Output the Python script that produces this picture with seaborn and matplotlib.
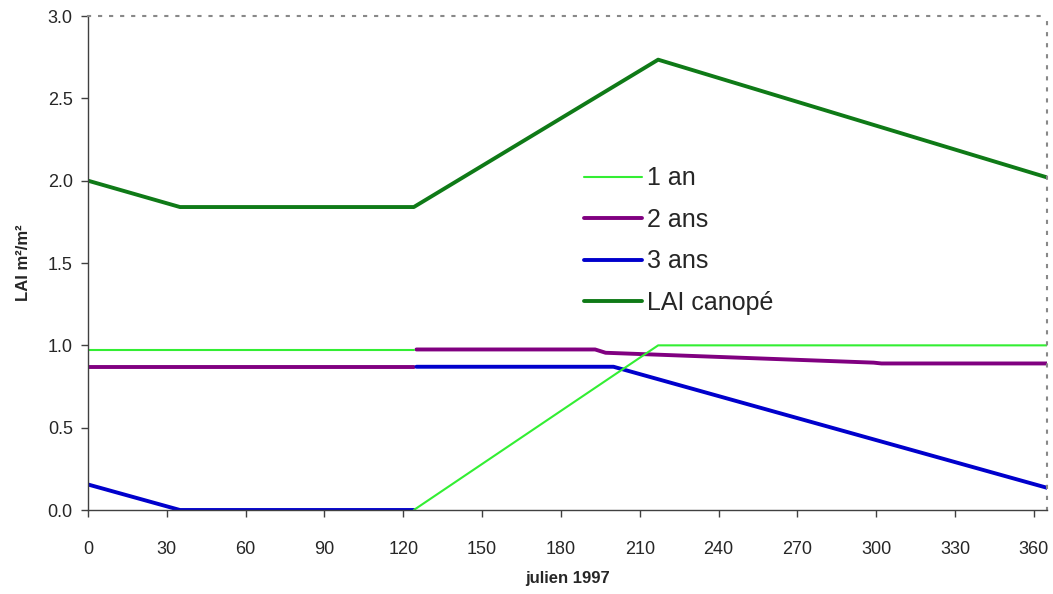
import matplotlib.pyplot as plt
import seaborn as sns
import pandas as pd
from matplotlib.lines import Line2D

# jours juliens / LAI (seg = troncon de courbe)
jours_1an = [0, 124, 124, 217, 365]
lai_1an = [0.97, 0.97, 0.0, 1.0, 1.0]
seg_1an = [0, 0, 1, 1, 1]

jours_2ans = [0, 124, 125, 193, 197, 299, 302, 365]
lai_2ans = [0.87, 0.87, 0.975, 0.975, 0.955, 0.895, 0.89, 0.89]
seg_2ans = [0, 0, 1, 1, 1, 1, 1, 1]

jours_3ans = [0, 35, 124, 125, 200, 365]
lai_3ans = [0.155, 0.0, 0.0, 0.87, 0.87, 0.135]
seg_3ans = [0, 0, 0, 1, 1, 1]

jours_canope = [0, 35, 124, 217, 365]
lai_canope = [2.0, 1.84, 1.84, 2.735, 2.02]
seg_canope = [0, 0, 0, 0, 0]

noms = ['1 an', '2 ans', '3 ans', 'LAI canopé']
couleurs = ['#33ee33', '#800080', '#0000cc', '#0f7a17']
epaisseurs = [1.5, 2.8, 2.8, 2.8]

sns.set_style("ticks")
plt.rcParams['font.family'] = ['Liberation Sans', 'DejaVu Sans']

fig = plt.figure(figsize=(10.53, 5.94), dpi=100)
ax = fig.add_axes([0.0836, 0.1414, 0.9107, 0.8316])


def trace(jours, lai, seg, couleur, lw):
    df = pd.DataFrame({'jour': jours, 'lai': lai, 'seg': seg})
    sns.lineplot(data=df, x='jour', y='lai', units='seg', estimator=None,
                 sort=False, color=couleur, linewidth=lw, ax=ax)


# 1 an drawn last so it sits on top
trace(jours_2ans, lai_2ans, seg_2ans, couleurs[1], epaisseurs[1])
trace(jours_3ans, lai_3ans, seg_3ans, couleurs[2], epaisseurs[2])
trace(jours_canope, lai_canope, seg_canope, couleurs[3], epaisseurs[3])
trace(jours_1an, lai_1an, seg_1an, couleurs[0], epaisseurs[0])

ax.set_xlim(0, 365)
ax.set_ylim(0, 3.0)
ax.set_xticks(range(0, 361, 30))
ax.set_yticks([0, 0.5, 1.0, 1.5, 2.0, 2.5, 3.0])
ax.set_yticklabels(['%.1f' % v for v in [0, 0.5, 1.0, 1.5, 2.0, 2.5, 3.0]])
ax.tick_params(labelsize=13, length=5, width=1, color='#404040')
ax.tick_params(axis='y', pad=6)
ax.tick_params(axis='x', pad=17)

ax.set_xlabel('julien 1997', fontsize=12, fontweight='bold', labelpad=10)
ax.set_ylabel('LAI m²/m²', fontsize=12, fontweight='bold', labelpad=12)

for s in ['left', 'bottom']:
    ax.spines[s].set_color('#404040')
    ax.spines[s].set_linewidth(1)
for s in ['top', 'right']:
    ax.spines[s].set_visible(True)
    ax.spines[s].set_color('#888888')
    ax.spines[s].set_linewidth(1.5)
    ax.spines[s].set_linestyle((0, (1, 4.3)))

poignees = [Line2D([0], [0], color=c, linewidth=w) for c, w in zip(couleurs, epaisseurs)]
ax.legend(poignees, noms, loc='upper left', bbox_to_anchor=(0.494, 0.741),
          frameon=False, fontsize=18, handlelength=2.3, handletextpad=0.2,
          labelspacing=0.7)

fig.savefig('out.png', dpi=100)
